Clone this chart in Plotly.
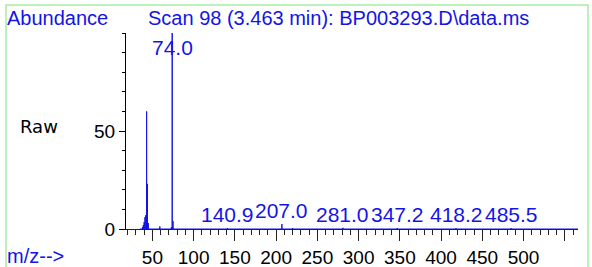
import plotly.graph_objects as go

# ---- data ----
peak_mz = [38, 39, 40, 41, 42, 43, 44, 45, 59, 73, 74, 75, 141, 207, 220, 281, 347, 418, 485]
peak_abund = [1.0, 2.0, 3.5, 6.0, 7.0, 60.0, 23.0, 3.0, 1.3, 1.0, 100.0, 4.0, 0.5, 2.5, 0.5, 0.6, 0.5, 0.4, 0.4]
label_mz = [74.0, 140.9, 207.0, 281.0, 347.2, 418.2, 485.5]
label_abund = [100.0, 0.4, 2.5, 0.6, 0.5, 0.4, 0.4]
scan_start, scan_end = 35, 566
x_tickvals = [50, 100, 150, 200, 250, 300, 350, 400, 450, 500, 550]
x_ticktext = ["50", "100", "150", "200", "250", "300", "350", "400", "450", "500", ""]
y_tickvals = [0, 50]
y_ticktext = ["0", "50"]

BLUE = "#1414e6"
FONT = "Liberation Sans, Arial, sans-serif"

# stick spectrum drawn as one continuous profile
xs, ys = [scan_start], [0]
for m, h in zip(peak_mz, peak_abund):
    xs += [m, m, m]
    ys += [0, h, 0]
xs.append(scan_end)
ys.append(0)

fig = go.Figure()
fig.add_trace(go.Scatter(x=xs, y=ys, mode="lines", line=dict(color=BLUE, width=1),
                         hoverinfo="skip", showlegend=False))

L, R, T, B = 126, 578, 33, 229
W, H = R - L, B - T
def px(x):
    return (x - L) / W
def py(y):
    return (B - y) / H

ann = []
for m, h in zip(label_mz, label_abund):
    if h >= 90:
        ann.append(dict(x=m, y=h, xref="x", yref="y", text=f"{m:.1f}", showarrow=False,
                        xanchor="center", yanchor="top", yshift=-1,
                        font=dict(family=FONT, size=21, color=BLUE)))
    else:
        ann.append(dict(x=m, y=h, xref="x", yref="y", text=f"{m:.1f}", showarrow=False,
                        xanchor="center", yanchor="bottom", yshift=0,
                        font=dict(family=FONT, size=21, color=BLUE)))

ann += [
    dict(x=px(5), y=py(18), xref="paper", yref="paper", text="Abundance", showarrow=False,
         xanchor="left", yanchor="middle", font=dict(family=FONT, size=20, color=BLUE)),
    dict(x=px(146), y=py(18), xref="paper", yref="paper",
         text="Scan 98 (3.463 min): BP003293.D\\data.ms", showarrow=False,
         xanchor="left", yanchor="middle", font=dict(family=FONT, size=20, color=BLUE)),
    dict(x=px(18), y=py(126), xref="paper", yref="paper", text="Raw", showarrow=False,
         xanchor="left", yanchor="middle", font=dict(family="DejaVu Sans", size=18, color="black")),
    dict(x=px(5), y=py(256), xref="paper", yref="paper", text="m/z-->", showarrow=False,
         xanchor="left", yanchor="middle", font=dict(family=FONT, size=20, color=BLUE)),
    dict(x=px(5), y=py(-7), xref="paper", yref="paper", text="m/z-->", showarrow=False,
         xanchor="left", yanchor="middle", font=dict(family=FONT, size=20, color=BLUE)),
]

shapes = [dict(type="rect", xref="paper", yref="paper", x0=px(6), x1=px(588), y0=py(275), y1=py(5),
               line=dict(color="#a8eca8", width=1.5), fillcolor="rgba(0,0,0,0)", layer="below")]

fig.update_layout(
    width=592, height=267, autosize=False,
    margin=dict(l=L, r=592 - R, t=T, b=267 - B, pad=0, autoexpand=False),
    paper_bgcolor="white", plot_bgcolor="white",
    annotations=ann, shapes=shapes,
    xaxis=dict(range=[18, 566], automargin=False, showgrid=False, zeroline=False, showline=True,
               linecolor="#222", linewidth=1, ticks="outside", ticklen=11, tickwidth=1,
               tickcolor="#222", tickvals=x_tickvals, ticktext=x_ticktext,
               tickfont=dict(family=FONT, size=19, color="black"),
               minor=dict(dtick=10, tick0=0, ticks="outside", ticklen=5, tickcolor="#222", showgrid=False)),
    yaxis=dict(range=[0, 100], automargin=False, showgrid=False, zeroline=False, showline=True,
               linecolor="black", linewidth=1, ticks="outside", ticklen=6, tickwidth=1,
               tickcolor="black", tickvals=y_tickvals, ticktext=y_ticktext,
               tickfont=dict(family=FONT, size=19, color="black"),
               minor=dict(dtick=10, tick0=0, ticks="outside", ticklen=3, tickcolor="black", showgrid=False)),
)

fig.write_html("out.html", config={"responsive": False, "displayModeBar": False},
               post_script="document.body.style.margin='0';")
